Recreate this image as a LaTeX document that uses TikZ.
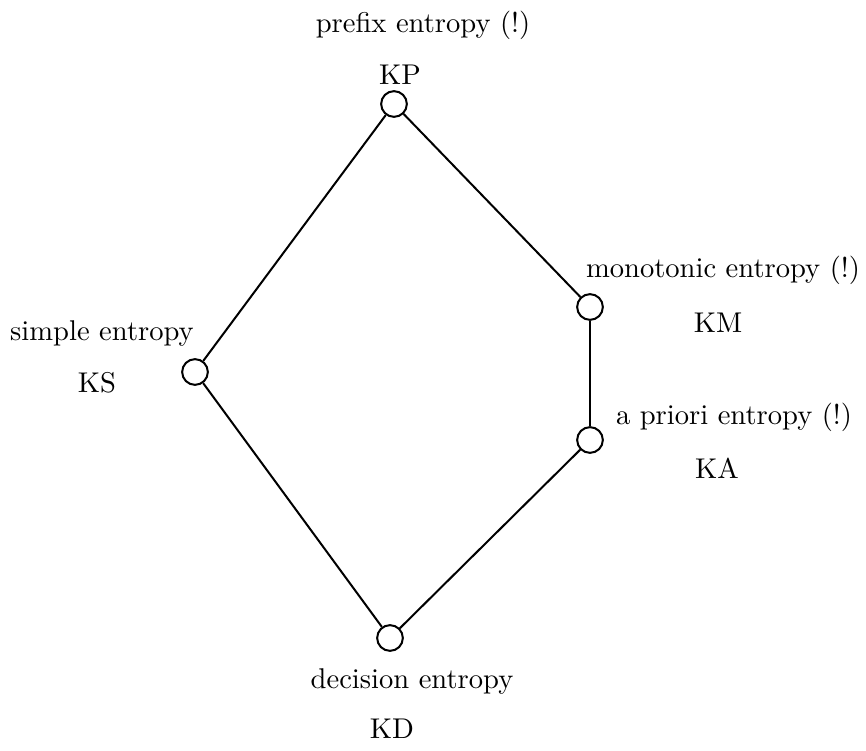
\documentclass[tikz,border=0pt]{standalone}
\usepackage{tikz}
\usetikzlibrary{positioning}

\begin{document}
\begin{tikzpicture}[
        x=0.35pt, y=-0.35pt,
        vertex/.style={circle,draw,line width=0.7pt,inner sep=0pt,minimum size=9pt},
        caption/.style={anchor=base,inner sep=0pt},
        edge/.style={line width=0.7pt}
    ]
        \useasboundingbox (0,0) rectangle (866,751);

        \node[vertex] (kp) at (394,104) {};
        \node[vertex] (km) at (590,307) {};
        \node[vertex] (ka) at (590,440) {};
        \node[vertex] (ks) at (195,372) {};
        \node[vertex] (kd) at (390,638) {};

        \node[caption] (kp-text) at (423,33) {prefix entropy (!)};
        \node[caption] (kp-name) at (400,85) {KP};
        \node[caption] (km-text) at (723,278) {monotonic entropy (!)};
        \node[caption] (km-name) at (718,333) {KM};
        \node[caption] (ka-text) at (734,424) {a priori entropy (!)};
        \node[caption] (ka-name) at (717,478) {KA};
        \node[caption] (ks-text) at (102,341) {simple entropy};
        \node[caption] (ks-name) at (97,393) {KS};
        \node[caption] (kd-text) at (412,688) {decision entropy};
        \node[caption] (kd-name) at (392,738) {KD};

        \draw[edge] (kp) -- (km);
        \draw[edge] (km) -- (ka);
        \draw[edge] (ka) -- (kd);
        \draw[edge] (kp) -- (ks);
        \draw[edge] (ks) -- (kd);
    \end{tikzpicture}
\end{document}
